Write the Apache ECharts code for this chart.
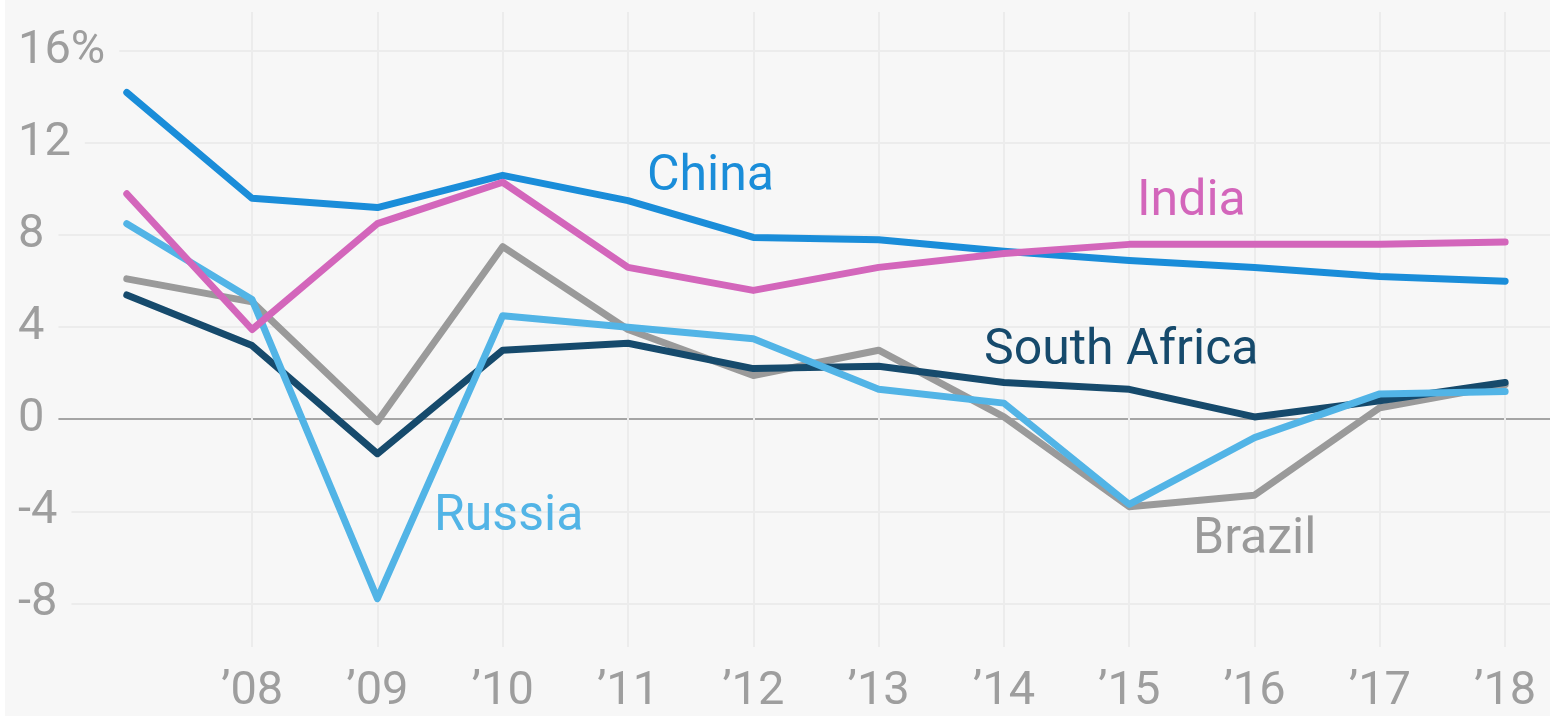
<!DOCTYPE html>
<html>
<head>
<meta charset="utf-8">
<script src="https://cdn.jsdelivr.net/npm/echarts@6/dist/echarts.min.js"></script>
<style>
  html, body { margin: 0; padding: 0; background: #ffffff; }
  #chart { position: absolute; left: 5px; top: 0; width: 1545px; height: 716px; }
</style>
</head>
<body>
<div id="chart"></div>
<script>
// ---- data ----
const years = [2007, 2008, 2009, 2010, 2011, 2012, 2013, 2014, 2015, 2016, 2017, 2018];
const brazil      = [6.1, 5.1, -0.1, 7.5, 3.9, 1.9, 3.0, 0.1, -3.8, -3.3, 0.5, 1.5];
const southAfrica = [5.4, 3.2, -1.5, 3.0, 3.3, 2.2, 2.3, 1.6, 1.3, 0.1, 0.8, 1.6];
const russia      = [8.5, 5.2, -7.8, 4.5, 4.0, 3.5, 1.3, 0.7, -3.7, -0.8, 1.1, 1.2];
const china       = [14.2, 9.6, 9.2, 10.6, 9.5, 7.9, 7.8, 7.3, 6.9, 6.6, 6.2, 6.0];
const india       = [9.8, 3.9, 8.5, 10.3, 6.6, 5.6, 6.6, 7.2, 7.6, 7.6, 7.6, 7.7];

const seriesNames = ['Brazil', 'South Africa', 'Russia', 'China', 'India'];
const seriesValues = [brazil, southAfrica, russia, china, india];
const seriesColors = ['#9a9a9a', '#164a6c', '#52b4e6', '#1a8dd9', '#d366bb'];

const xTickValues = [2008, 2009, 2010, 2011, 2012, 2013, 2014, 2015, 2016, 2017, 2018];
const xTickLabels = ['\u201908', '\u201909', '\u201910', '\u201911', '\u201912', '\u201913', '\u201914', '\u201915', '\u201916', '\u201917', '\u201918'];
const yTickValues = [-8, -4, 0, 4, 8, 12, 16];
const yTickLabels = ['-8', '-4', '0', '4', '8', '12', '16%'];

// ---- label placement (pixels within chart div) ----
const labelPos = {
  'China':        [642, 177],
  'India':        [1132, 202],
  'South Africa': [979, 351],
  'Russia':       [429, 517],
  'Brazil':       [1188, 540]
};

const FONT = 'Roboto, "Noto Sans", sans-serif';
const TICK_COLOR = '#9e9e9e';
const BG = '#f7f7f7';

const chart = echarts.init(document.getElementById('chart'), null, { renderer: 'canvas' });

const series = seriesNames.map((name, k) => ({
  name: name,
  type: 'line',
  data: years.map((y, i) => [y, seriesValues[k][i]]),
  showSymbol: false,
  symbol: 'none',
  lineStyle: { width: 7, color: seriesColors[k], cap: 'round', join: 'round' },
  itemStyle: { color: seriesColors[k] },
  emphasis: { disabled: true },
  z: 3
}));

const graphics = seriesNames.map((name, k) => ({
  type: 'text',
  x: labelPos[name][0],
  y: labelPos[name][1],
  z: 10,
  silent: true,
  style: {
    text: name,
    fill: seriesColors[k],
    font: '400 50px ' + FONT,
    align: 'left',
    verticalAlign: 'middle'
  }
}));

chart.setOption({
  animation: false,
  backgroundColor: BG,
  textStyle: { fontFamily: FONT },
  grid: { left: 0, right: 0, top: 12, bottom: 68, containLabel: false },
  xAxis: {
    type: 'value',
    min: 2006.052,
    max: 2018.358,
    axisLine: { show: false },
    axisTick: { show: false, customValues: xTickValues },
    axisLabel: {
      customValues: xTickValues,
      formatter: v => xTickLabels[xTickValues.indexOf(Math.round(v))] || '',
      color: TICK_COLOR,
      fontSize: 47,
      fontFamily: FONT,
      margin: 22
    },
    splitLine: { show: true, lineStyle: { color: '#ececec', width: 2 } }
  },
  yAxis: {
    type: 'value',
    min: -9.9,
    max: 17.7,
    position: 'left',
    axisLine: { show: false },
    axisTick: { show: false, customValues: yTickValues },
    axisLabel: {
      inside: true,
      customValues: yTickValues,
      formatter: v => yTickLabels[yTickValues.indexOf(Math.round(v))] || '',
      color: TICK_COLOR,
      fontSize: 47,
      fontFamily: FONT,
      margin: 0,
      backgroundColor: BG,
      padding: [4, 14, 0, 10]
    },
    splitLine: {
      show: true,
      lineStyle: {
        color: yTickValues.map(v => v === 0 ? '#a5a5a5' : '#ececec'),
        width: 2
      }
    }
  },
  graphic: graphics,
  series: series
});
</script>
</body>
</html>
